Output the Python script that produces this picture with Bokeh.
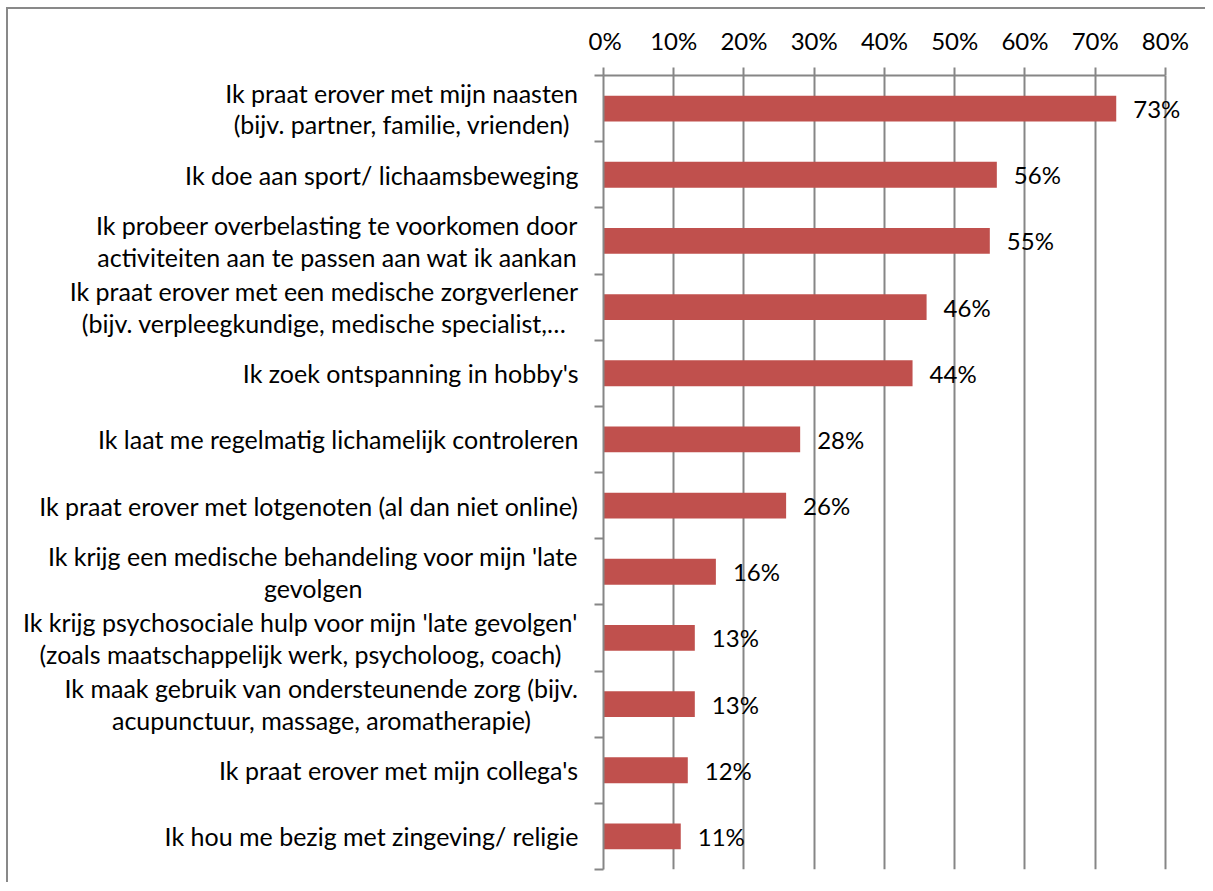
from bokeh.plotting import figure
from bokeh.models import Range1d, FixedTicker, NumeralTickFormatter, ColumnDataSource, LabelSet
from bokeh.models.glyphs import Text
from bokeh.layouts import row
from bokeh.core.properties import value
from bokeh.embed import file_html
from bokeh.resources import INLINE

categories = [
    "Ik praat erover met mijn naasten\n(bijv. partner, familie, vrienden)",
    "Ik doe aan sport/ lichaamsbeweging",
    "Ik probeer overbelasting te voorkomen door\nactiviteiten aan te passen aan wat ik aankan",
    "Ik praat erover met een medische zorgverlener\n(bijv. verpleegkundige, medische specialist,\u2026",
    "Ik zoek ontspanning in hobby's",
    "Ik laat me regelmatig lichamelijk controleren",
    "Ik praat erover met lotgenoten (al dan niet online)",
    "Ik krijg een medische behandeling voor mijn 'late\ngevolgen",
    "Ik krijg psychosociale hulp voor mijn 'late gevolgen'\n(zoals maatschappelijk werk, psycholoog, coach)",
    "Ik maak gebruik van ondersteunende zorg (bijv.\nacupunctuur, massage, aromatherapie)",
    "Ik praat erover met mijn collega's",
    "Ik hou me bezig met zingeving/ religie",
]
values = [0.73, 0.56, 0.55, 0.46, 0.44, 0.28, 0.26, 0.16, 0.13, 0.13, 0.12, 0.11]
value_labels = ["73%", "56%", "55%", "46%", "44%", "28%", "26%", "16%", "13%", "13%", "12%", "11%"]
x_ticks = [0.0, 0.1, 0.2, 0.3, 0.4, 0.5, 0.6, 0.7, 0.8]

FONT = "Lato"
FS = "24px"
CAT_FS = "25px"
GRID = "#868686"
BAR = "#C0504D"
H = 873
TOP = 66
BOTTOM = 13

n = len(categories)
ypos = [i + 1 for i in range(n)]
boundaries = [i + 0.5 for i in range(n + 1)]

src = ColumnDataSource(dict(cat=categories, val=values, y=ypos, lab=value_labels))
y_range = Range1d(n + 0.5, 0.5)

# left figure: category labels
left = figure(width=580, height=H, x_range=Range1d(0, 1), y_range=y_range,
              x_axis_type=None, y_axis_type=None,
              output_backend="svg", toolbar_location=None,
              min_border_left=0, min_border_right=0, min_border_top=TOP, min_border_bottom=BOTTOM)
left.grid.visible = False
left.outline_line_color = None

tk = dict(text_font=value(FONT), text_font_size=CAT_FS, text_color="#000000", text_line_height=1.06)
if "anchor" in Text.properties():
    left.text(x=1, y="y", text="cat", source=src, x_offset=-10,
              anchor=value("center_right"), text_align="center", text_baseline="middle", **tk)
else:
    left.text(x=1, y="y", text="cat", source=src, x_offset=-10,
              text_align="right", text_baseline="middle", **tk)

# right figure: the chart
p = figure(width=617, height=H, x_range=Range1d(0, 0.84), y_range=y_range,
           x_axis_location="above",
           output_backend="svg", toolbar_location=None,
           min_border_left=15, min_border_right=12, min_border_top=TOP, min_border_bottom=BOTTOM)
p.outline_line_color = None

p.hbar(y="y", left=0, right="val", height=0.39, source=src, fill_color=BAR, line_color=None)

labels = LabelSet(x="val", y="y", text="lab", source=src, x_offset=17,
                  text_align="left", text_baseline="middle",
                  text_font=value(FONT), text_font_size=FS, text_color="#000000")
p.add_layout(labels)

xa = p.xaxis[0]
xa.ticker = FixedTicker(ticks=x_ticks)
xa.bounds = (x_ticks[0], x_ticks[-1])
xa.formatter = NumeralTickFormatter(format="0%")
xa.axis_line_color = GRID
xa.axis_line_width = 2
xa.major_tick_line_color = GRID
xa.major_tick_line_width = 2
xa.major_tick_out = 8
xa.major_tick_in = 0
xa.minor_tick_line_color = None
xa.major_label_standoff = 13
xa.major_label_text_font = FONT
xa.major_label_text_font_size = FS
xa.major_label_text_color = "#000000"

ya = p.yaxis[0]
ya.ticker = FixedTicker(ticks=[], minor_ticks=boundaries)
ya.axis_line_color = GRID
ya.axis_line_width = 2
ya.major_tick_line_color = None
ya.minor_tick_line_color = GRID
ya.minor_tick_line_width = 2
ya.minor_tick_out = 9
ya.minor_tick_in = 0

p.xgrid.ticker = FixedTicker(ticks=x_ticks)
p.xgrid.grid_line_color = GRID
p.xgrid.grid_line_width = 2
p.ygrid.visible = False

layout = row(left, p, styles={"border-left": "2px solid #898989", "border-top": "2px solid #898989",
                              "margin-left": "6px", "margin-top": "7px"})

open("out.html", "w").write(file_html(layout, INLINE))
